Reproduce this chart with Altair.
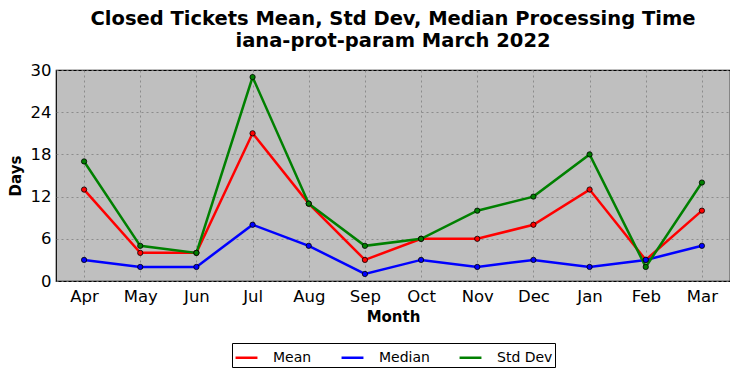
import altair as alt
import pandas as pd

months = ["Apr", "May", "Jun", "Jul", "Aug", "Sep", "Oct", "Nov", "Dec", "Jan", "Feb", "Mar"]
mean_vals = [13, 4, 4, 21, 11, 3, 6, 6, 8, 13, 3, 10]
median_vals = [3, 2, 2, 8, 5, 1, 3, 2, 3, 2, 3, 5]
std_vals = [17, 5, 4, 29, 11, 5, 6, 10, 12, 18, 2, 14]
series_names = ["Mean", "Median", "Std Dev"]
series_colors = ["#ff0000", "#0000ff", "#008000"]

rows = []
for name, vals in zip(series_names, [mean_vals, median_vals, std_vals]):
    for i, (m, v) in enumerate(zip(months, vals)):
        rows.append({"Month": m, "Days": v, "Series": name, "order": i})
df = pd.DataFrame(rows)

FONT = "DejaVu Sans"

x = alt.X("Month:N", sort=months, title="Month",
          scale=alt.Scale(type="point", padding=0.5),
          axis=alt.Axis(labelAngle=0, labelFontSize=16.5, labelColor="black",
                        titleFontSize=15, titleFontWeight="bold", titleColor="black",
                        grid=True, gridDash=[2, 3], gridColor="#808080", gridOpacity=0.8,
                        tickSize=0, labelPadding=7, titlePadding=5, domain=False))
y = alt.Y("Days:Q", title="Days",
          scale=alt.Scale(domain=[0, 30], nice=False),
          axis=alt.Axis(values=[0, 6, 12, 18, 24, 30], labelFontSize=16.5, labelColor="black",
                        titleFontSize=15, titleFontWeight="bold", titleColor="black",
                        grid=True, gridDash=[2, 3], gridColor="#808080", gridOpacity=0.8,
                        tickSize=0, labelPadding=5, titlePadding=7, domain=False))
color = alt.Color("Series:N", sort=series_names,
                  scale=alt.Scale(domain=series_names, range=series_colors),
                  legend=alt.Legend(title=None, orient="none", legendX=176, legendY=273,
                                    direction="horizontal", symbolType="stroke",
                                    symbolStrokeWidth=2.5, symbolSize=480,
                                    labelFontSize=14, labelColor="black", labelOffset=14,
                                    columnPadding=24, padding=2,
                                    strokeColor="black", fillColor="white",
                                    labelFont=FONT))

base = alt.Chart(df).encode(x=x, y=y, color=color, order="order:Q")
lines = base.mark_line(strokeWidth=2.5)
points = base.mark_point(filled=True, size=28, stroke="black", strokeWidth=0.8, opacity=1).encode(
    fill=alt.Fill("Series:N", scale=alt.Scale(domain=series_names, range=series_colors), legend=None),
    color=alt.value("black"))

chart = alt.layer(lines, points).properties(
    width=674, height=211, padding=0,
    title=alt.Title(["Closed Tickets Mean, Std Dev, Median Processing Time", "iana-prot-param March 2022"],
                    fontSize=19.5, fontWeight="bold", color="black", anchor="middle", offset=11,
                    lineHeight=22, font=FONT),
).configure(font=FONT).configure_view(
    fill="#bfbfbf", stroke="black", strokeWidth=1.2
).configure_axis(labelFont=FONT, titleFont=FONT)

chart.save("out.html", embed_options={"renderer": "svg", "actions": False})
